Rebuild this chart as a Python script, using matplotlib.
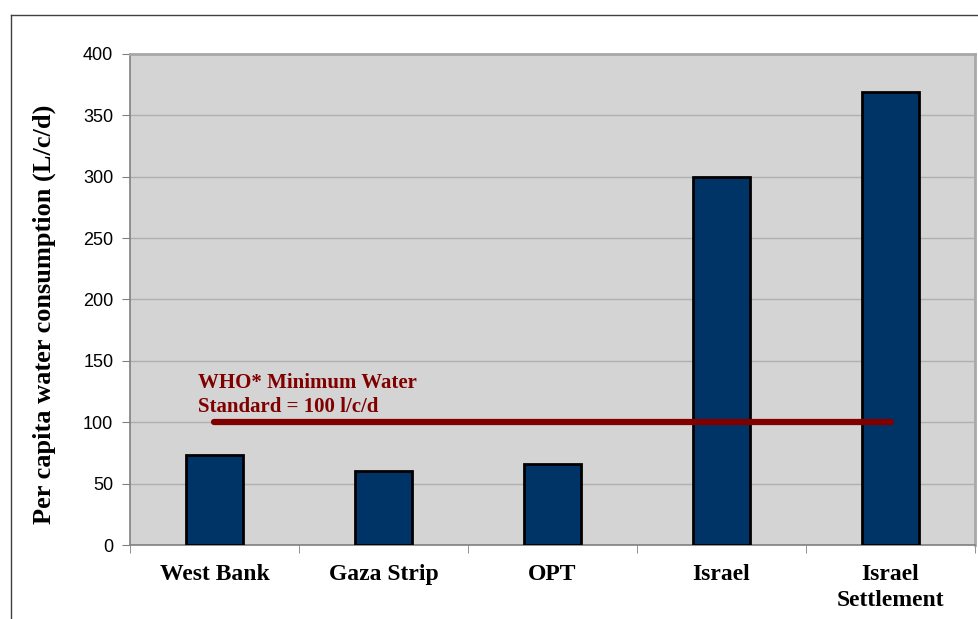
import matplotlib.pyplot as plt
from matplotlib.lines import Line2D
import numpy as np

categories = ["West Bank", "Gaza Strip", "OPT", "Israel", "Israel\nSettlement"]
consumption = [73, 60, 66, 300, 369]
who_standard = 100
yticks = [0, 50, 100, 150, 200, 250, 300, 350, 400]

serif = ["Liberation Serif", "DejaVu Serif"]
sans = ["Liberation Sans", "DejaVu Sans"]

fig = plt.figure(figsize=(9.79, 6.19), dpi=100)
ax = fig.add_axes([130 / 979, 74 / 619, 845 / 979, 491 / 619])
ax.set_facecolor("#d4d4d4")

x = np.arange(len(categories))
ax.bar(x, consumption, width=0.34, color="#003366", edgecolor="black",
       linewidth=2, zorder=3)

# WHO minimum line, centre of first to centre of last category
ax.plot([x[0], x[-1]], [who_standard, who_standard], color="#800000",
        linewidth=4.5, solid_capstyle="round", zorder=4)
ax.text(-0.1, who_standard + 4, "WHO* Minimum Water\nStandard = 100 l/c/d",
        color="#800000", fontsize=15, fontweight="bold", family=serif,
        ha="left", va="bottom", linespacing=1.3, zorder=5)

ax.set_xlim(-0.5, len(categories) - 0.5)
ax.set_ylim(0, 400)
ax.set_yticks(yticks)
ax.set_yticklabels([str(v) for v in yticks], family=sans, fontsize=13)
ax.yaxis.grid(True, color="#b0b0b0", linewidth=1, zorder=0)
ax.tick_params(axis="y", direction="out", length=6, color="#808080", pad=6)

ax.set_xticks(x)
ax.set_xticklabels(categories, family=serif, fontsize=17, fontweight="bold",
                   linespacing=1.3)
ax.set_xticks(np.arange(-0.5, len(categories), 1), minor=True)
ax.tick_params(axis="x", which="major", length=0, pad=14)
ax.tick_params(axis="x", which="minor", direction="out", length=6, color="#808080")

ax.set_ylabel("Per capita water consumption (L/c/d)", family=serif,
              fontsize=19, fontweight="bold")
ax.yaxis.set_label_coords(-0.088, 0.47)

for s in ["left", "bottom"]:
    ax.spines[s].set_color("#808080")
    ax.spines[s].set_linewidth(1.2)
for s in ["top", "right"]:
    ax.spines[s].set_color("#a8a8a8")
    ax.spines[s].set_linewidth(2)

# outer chart frame, cropped at right and bottom
fig.add_artist(Line2D([11 / 979, 1], [1 - 15 / 619, 1 - 15 / 619],
                      color="#404040", linewidth=1, transform=fig.transFigure))
fig.add_artist(Line2D([11 / 979, 11 / 979], [0, 1 - 15 / 619],
                      color="#404040", linewidth=1, transform=fig.transFigure))

fig.savefig("out.png", dpi=100)
